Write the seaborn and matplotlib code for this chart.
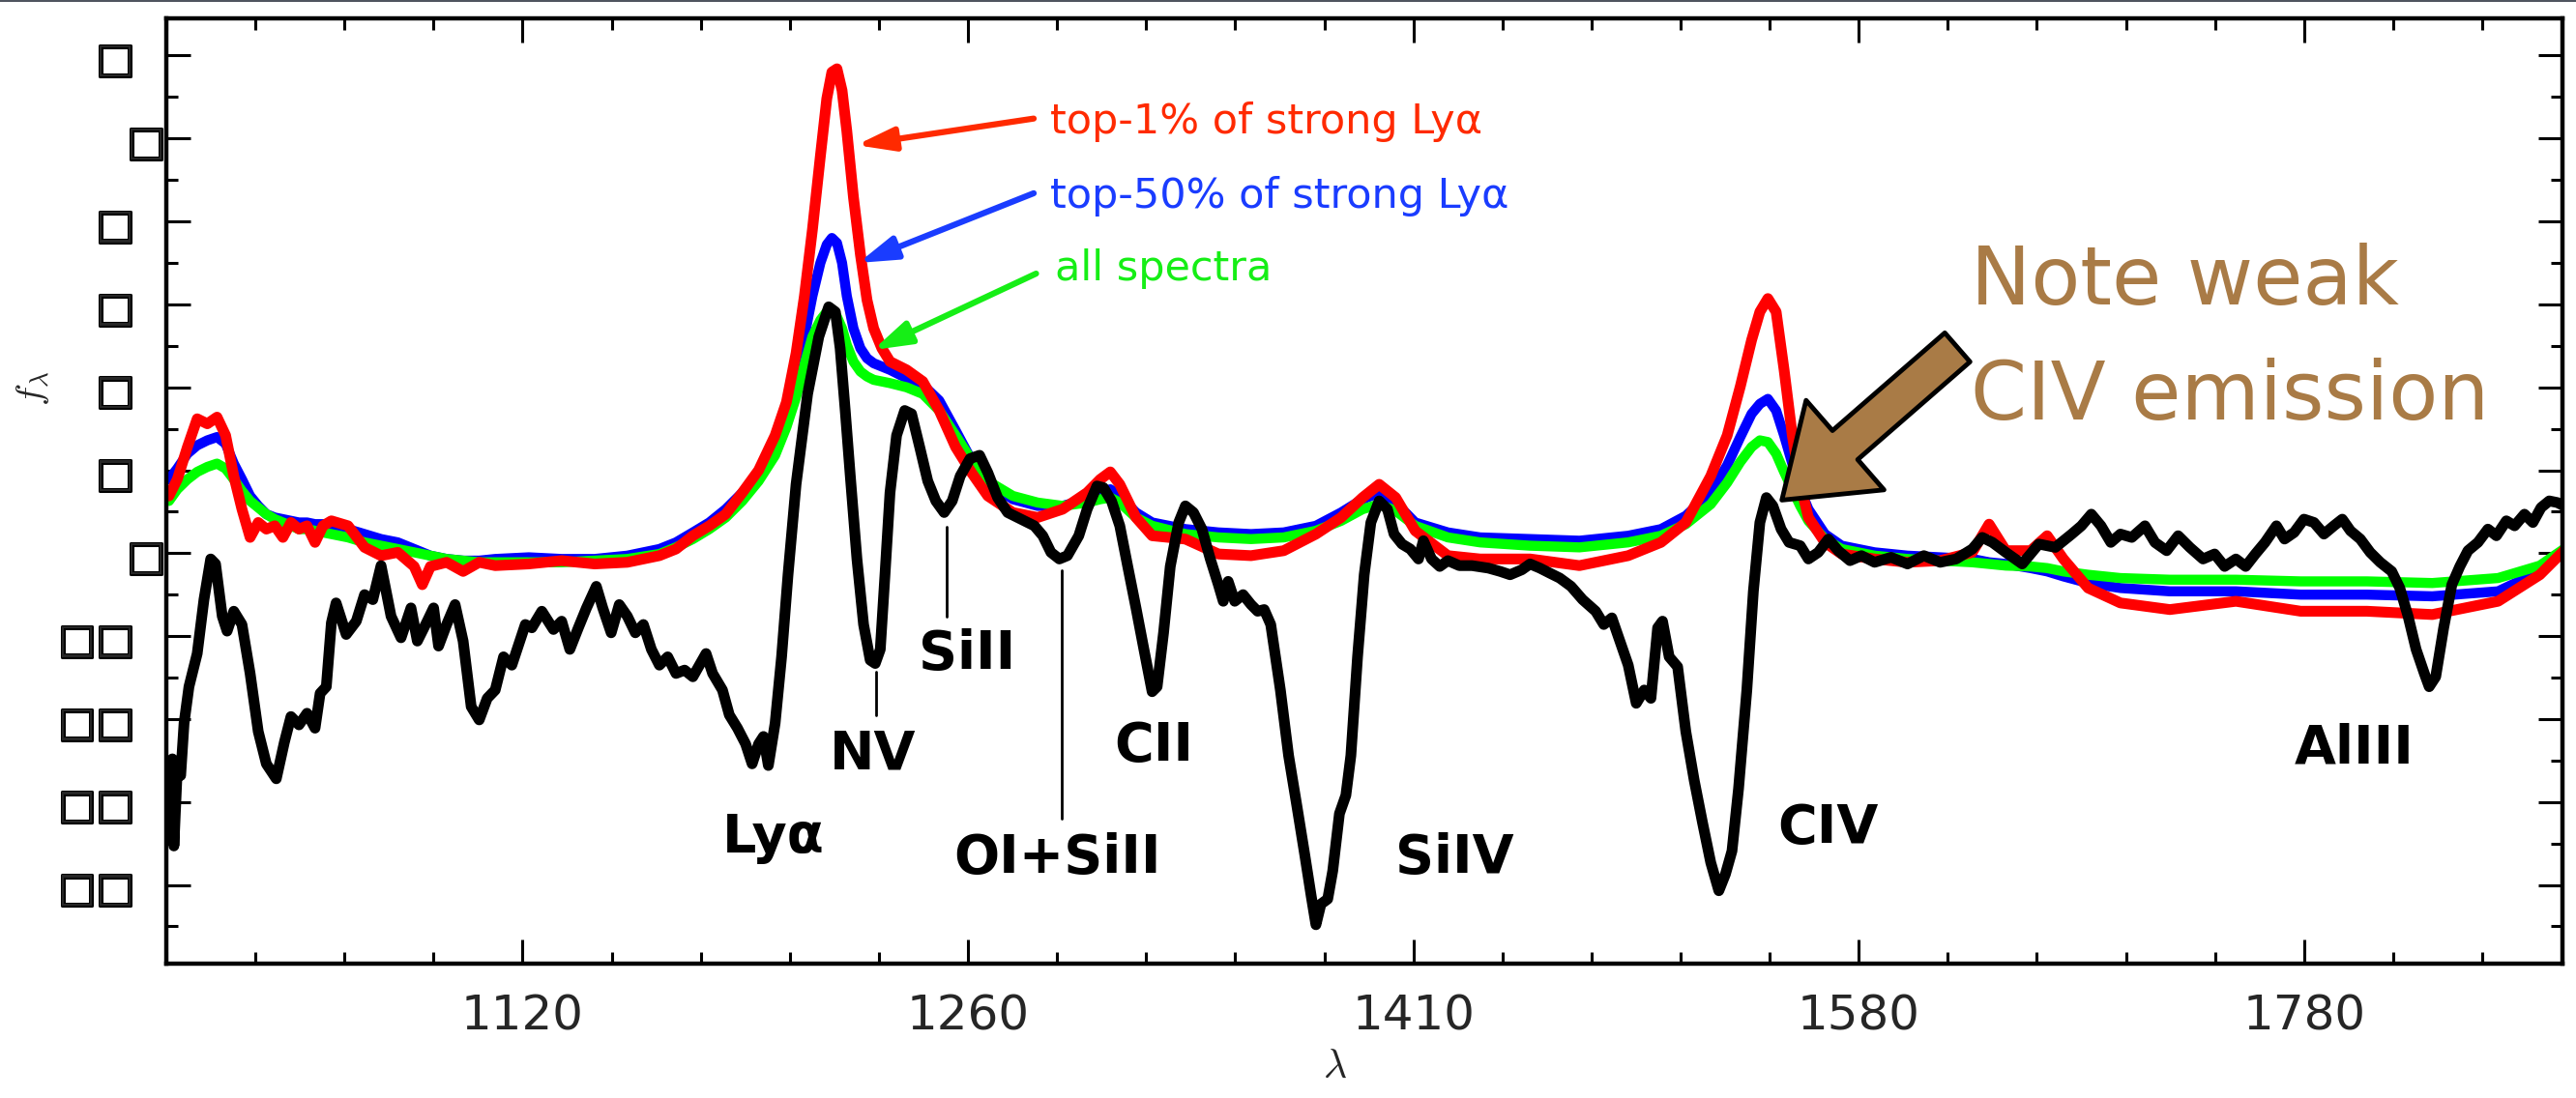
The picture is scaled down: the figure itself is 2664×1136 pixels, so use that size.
import numpy as np
import matplotlib
matplotlib.use("Agg")
import matplotlib.pyplot as plt
import matplotlib.transforms as mtransforms
import matplotlib.patheffects as pe
from matplotlib.lines import Line2D
from matplotlib.ticker import FixedLocator, NullFormatter
import seaborn as sns

# ---------------- data: rest-frame wavelength (A) and scaled flux ----------------
bal_wave = [
    1024.0, 1024.9, 1025.3, 1026.2, 1027.1, 1028.0, 1029.3, 1031.5, 1033.3, 1035.1,
    1036.4, 1038.2, 1039.5, 1041.3, 1043.5, 1045.7, 1047.9, 1050.1, 1052.8, 1055.0,
    1056.8, 1059.0, 1061.2, 1063.4, 1064.8, 1066.5, 1067.9, 1069.2, 1072.0, 1074.8,
    1077.1, 1079.4, 1081.7, 1084.5, 1087.3, 1090.1, 1091.9, 1094.7, 1096.5, 1097.9,
    1100.2, 1102.6, 1104.9, 1107.2, 1109.5, 1111.8, 1114.1, 1116.5, 1118.9, 1122.8,
    1124.7, 1127.6, 1131.0, 1133.4, 1135.8, 1138.3, 1140.7, 1143.6, 1145.5, 1148.0,
    1150.4, 1152.8, 1155.2, 1157.6, 1160.0, 1162.4, 1164.9, 1167.4, 1170.0, 1172.5,
    1176.5, 1178.5, 1181.5, 1183.6, 1186.1, 1188.6, 1190.6, 1192.6, 1194.1, 1195.6,
    1197.7, 1199.7, 1201.7, 1204.2, 1207.8, 1211.3, 1214.4, 1216.5, 1218.0, 1219.6,
    1221.2, 1223.3, 1225.4, 1227.5, 1229.1, 1230.7, 1232.2, 1233.8, 1235.9, 1238.5,
    1240.7, 1243.3, 1245.9, 1248.5, 1251.2, 1253.8, 1256.4, 1259.6, 1262.7, 1265.4,
    1268.6, 1271.9, 1276.3, 1280.7, 1283.5, 1286.2, 1289.0, 1291.7, 1295.5, 1298.3,
    1301.6, 1303.8, 1306.5, 1309.3, 1312.0, 1314.8, 1317.5, 1320.3, 1322.0, 1324.2,
    1326.5, 1329.4, 1331.7, 1334.5, 1337.4, 1340.3, 1343.1, 1344.8, 1346.5, 1348.8,
    1351.7, 1354.5, 1356.8, 1359.1, 1361.4, 1364.8, 1367.7, 1370.6, 1373.4, 1375.7,
    1377.4, 1379.2, 1381.6, 1383.4, 1385.8, 1388.1, 1389.9, 1392.3, 1394.7, 1397.1,
    1400.1, 1403.1, 1405.5, 1408.4, 1411.4, 1414.4, 1416.2, 1419.2, 1422.2, 1425.2,
    1429.4, 1434.1, 1440.2, 1444.6, 1448.3, 1452.7, 1455.8, 1459.5, 1463.2, 1467.0,
    1471.3, 1475.7, 1480.7, 1483.8, 1486.9, 1490.0, 1493.2, 1496.3, 1499.4, 1502.0,
    1504.6, 1506.5, 1509.1, 1512.4, 1515.6, 1518.9, 1522.1, 1525.4, 1528.6, 1531.2,
    1533.8, 1536.4, 1539.7, 1542.3, 1544.9, 1547.5, 1550.1, 1553.4, 1556.6, 1561.1,
    1564.4, 1568.4, 1572.5, 1576.5, 1581.3, 1586.0, 1591.4, 1598.2, 1605.0, 1611.8,
    1618.6, 1625.3, 1632.1, 1636.3, 1640.6, 1646.3, 1653.3, 1660.4, 1667.5, 1674.6,
    1678.8, 1683.1, 1687.3, 1691.6, 1695.8, 1700.8, 1706.6, 1711.0, 1716.2, 1721.3,
    1726.5, 1732.4, 1737.6, 1742.1, 1747.2, 1751.6, 1756.0, 1760.4, 1765.6, 1769.3,
    1773.7, 1778.2, 1782.8, 1787.4, 1792.0, 1795.9, 1799.7, 1804.3, 1808.9, 1813.6,
    1819.0, 1822.8, 1826.7, 1830.5, 1834.4, 1836.7, 1839.8, 1843.6, 1847.5, 1851.3,
    1855.2, 1860.0, 1864.8, 1868.9, 1873.7, 1877.7, 1882.5, 1886.6, 1890.6, 1894.6,
    1898.6, 1901.8,
]
bal_flux = [
    -3.43, -2.48, -3.53, -2.60, -2.68, -2.05, -1.61, -1.21, -0.56, -0.07,
    -0.13, -0.76, -0.94, -0.70, -0.86, -1.45, -2.15, -2.54, -2.72, -2.28,
    -1.97, -2.07, -1.93, -2.11, -1.69, -1.61, -0.84, -0.60, -0.98, -0.82,
    -0.50, -0.56, -0.15, -0.76, -1.02, -0.66, -1.06, -0.82, -0.66, -1.12,
    -0.86, -0.62, -1.06, -1.85, -2.01, -1.75, -1.65, -1.25, -1.35, -0.86,
    -0.90, -0.70, -0.92, -0.82, -1.16, -0.90, -0.66, -0.40, -0.66, -0.96,
    -0.62, -0.76, -0.96, -0.86, -1.16, -1.35, -1.25, -1.45, -1.41, -1.49,
    -1.21, -1.45, -1.65, -1.95, -2.11, -2.30, -2.54, -2.30, -2.21, -2.56,
    -2.05, -1.25, -0.26, 0.83, 1.92, 2.61, 2.97, 2.91, 2.47, 1.72,
    0.93, -0.07, -0.86, -1.29, -1.33, -1.16, -0.26, 0.73, 1.42, 1.72,
    1.68, 1.28, 0.87, 0.63, 0.49, 0.63, 0.93, 1.14, 1.18, 0.97,
    0.67, 0.49, 0.41, 0.33, 0.21, 0.01, -0.07, -0.03, 0.21, 0.53,
    0.81, 0.79, 0.63, 0.33, -0.16, -0.66, -1.16, -1.67, -1.61, -0.96,
    -0.16, 0.37, 0.57, 0.49, 0.29, -0.07, -0.38, -0.58, -0.34, -0.58,
    -0.50, -0.62, -0.70, -0.68, -0.86, -1.65, -2.44, -3.04, -3.63, -4.13,
    -4.48, -4.23, -4.17, -3.83, -3.14, -2.92, -2.44, -1.25, -0.26, 0.37,
    0.63, 0.53, 0.23, 0.11, 0.05, -0.07, 0.15, -0.07, -0.16, -0.09,
    -0.15, -0.15, -0.18, -0.22, -0.26, -0.20, -0.13, -0.18, -0.24, -0.30,
    -0.40, -0.56, -0.70, -0.86, -0.78, -1.06, -1.35, -1.81, -1.65, -1.75,
    -0.90, -0.82, -1.25, -1.37, -2.15, -2.74, -3.24, -3.73, -4.07, -3.87,
    -3.59, -2.84, -1.65, -0.46, 0.37, 0.67, 0.57, 0.29, 0.13, 0.09,
    -0.07, 0.01, 0.17, 0.03, -0.09, -0.03, -0.11, -0.05, -0.13, -0.03,
    -0.11, -0.07, 0.05, 0.19, 0.13, 0.01, -0.13, 0.11, 0.07, 0.23,
    0.33, 0.47, 0.33, 0.13, 0.23, 0.19, 0.33, 0.13, 0.03, 0.21,
    0.07, -0.07, -0.01, -0.16, -0.07, -0.16, -0.01, 0.13, 0.33, 0.17,
    0.25, 0.41, 0.37, 0.23, 0.33, 0.41, 0.27, 0.17, 0.01, -0.11,
    -0.22, -0.42, -0.76, -1.16, -1.45, -1.61, -1.49, -0.90, -0.38, -0.16,
    0.03, 0.13, 0.29, 0.21, 0.39, 0.33, 0.47, 0.37, 0.55, 0.63,
    0.61, 0.57,
]

composite_wave = [
    1024.0, 1026.2, 1028.9, 1031.5, 1034.2, 1036.8, 1039.1, 1041.3, 1043.5, 1045.7,
    1047.9, 1050.1, 1052.4, 1054.6, 1056.8, 1059.0, 1061.2, 1063.4, 1065.6, 1067.9,
    1072.5, 1077.1, 1081.7, 1086.4, 1091.0, 1093.3, 1095.6, 1100.2, 1104.9, 1109.5,
    1114.1, 1123.8, 1133.4, 1143.1, 1152.8, 1162.4, 1167.4, 1172.5, 1177.5, 1182.5,
    1187.6, 1192.6, 1197.7, 1201.2, 1204.2, 1206.8, 1209.3, 1211.8, 1213.8, 1215.4,
    1217.0, 1218.6, 1220.1, 1222.2, 1224.4, 1226.5, 1228.6, 1231.2, 1233.8, 1239.1,
    1244.3, 1249.6, 1254.9, 1260.1, 1265.4, 1273.6, 1281.8, 1290.1, 1298.3, 1302.7,
    1306.1, 1309.3, 1314.8, 1320.3, 1331.7, 1343.1, 1354.5, 1366.0, 1377.4, 1386.4,
    1394.1, 1400.1, 1406.1, 1413.2, 1425.2, 1437.1, 1455.8, 1474.5, 1493.2, 1505.9,
    1515.6, 1525.4, 1531.9, 1537.1, 1541.6, 1544.9, 1548.1, 1551.4, 1554.6, 1557.9,
    1561.1, 1564.4, 1571.1, 1577.9, 1591.4, 1605.0, 1618.6, 1632.1, 1639.2, 1646.3,
    1656.9, 1664.0, 1671.0, 1681.7, 1695.8, 1717.6, 1747.2, 1776.7, 1807.4, 1838.2,
    1869.7, 1890.0, 1901.8,
]
top1_flux = [
    0.69, 0.89, 1.28, 1.62, 1.56, 1.64, 1.42, 0.93, 0.53, 0.19,
    0.37, 0.29, 0.33, 0.19, 0.37, 0.29, 0.33, 0.13, 0.33, 0.39,
    0.33, 0.07, -0.03, 0.01, -0.16, -0.38, -0.16, -0.11, -0.22, -0.11,
    -0.15, -0.13, -0.09, -0.13, -0.11, -0.03, 0.05, 0.21, 0.33, 0.47,
    0.73, 1.00, 1.42, 1.82, 2.41, 3.10, 3.90, 4.79, 5.48, 5.80,
    5.84, 5.58, 5.09, 4.29, 3.60, 3.05, 2.71, 2.47, 2.31, 2.21,
    2.07, 1.72, 1.28, 0.97, 0.69, 0.49, 0.43, 0.53, 0.73, 0.89,
    0.98, 0.83, 0.43, 0.21, 0.17, -0.01, -0.03, 0.03, 0.23, 0.43,
    0.67, 0.83, 0.67, 0.27, -0.03, -0.07, -0.07, -0.15, -0.03, 0.13,
    0.37, 0.93, 1.42, 2.01, 2.57, 2.91, 3.07, 2.91, 2.21, 1.42,
    0.83, 0.43, 0.13, -0.01, -0.07, -0.11, -0.09, 0.01, 0.35, 0.03,
    0.03, 0.21, -0.07, -0.42, -0.60, -0.68, -0.58, -0.70, -0.70, -0.74,
    -0.58, -0.26, 0.03,
]
top50_flux = [
    0.89, 1.02, 1.20, 1.30, 1.36, 1.40, 1.32, 1.08, 0.89, 0.69,
    0.57, 0.47, 0.43, 0.41, 0.39, 0.37, 0.37, 0.35, 0.35, 0.33,
    0.29, 0.23, 0.17, 0.13, 0.05, 0.01, -0.03, -0.07, -0.09, -0.09,
    -0.07, -0.05, -0.07, -0.07, -0.03, 0.05, 0.13, 0.25, 0.37, 0.53,
    0.73, 0.97, 1.32, 1.68, 2.15, 2.61, 3.10, 3.50, 3.72, 3.80,
    3.74, 3.50, 3.10, 2.71, 2.47, 2.35, 2.29, 2.25, 2.21, 2.11,
    2.03, 1.84, 1.48, 1.12, 0.85, 0.65, 0.57, 0.57, 0.65, 0.73,
    0.77, 0.69, 0.49, 0.37, 0.29, 0.25, 0.23, 0.25, 0.33, 0.49,
    0.65, 0.73, 0.61, 0.37, 0.25, 0.19, 0.17, 0.15, 0.21, 0.29,
    0.45, 0.73, 1.06, 1.40, 1.68, 1.80, 1.86, 1.72, 1.42, 1.08,
    0.77, 0.53, 0.23, 0.09, 0.01, -0.03, -0.05, -0.07, -0.11, -0.13,
    -0.18, -0.22, -0.28, -0.36, -0.42, -0.46, -0.46, -0.50, -0.50, -0.52,
    -0.46, -0.22, 0.03,
]
all_flux = [
    0.63, 0.77, 0.89, 0.98, 1.04, 1.08, 1.02, 0.89, 0.75, 0.63,
    0.55, 0.47, 0.41, 0.37, 0.33, 0.29, 0.29, 0.27, 0.25, 0.23,
    0.19, 0.13, 0.09, 0.05, 0.01, -0.01, -0.03, -0.07, -0.09, -0.11,
    -0.11, -0.11, -0.11, -0.09, -0.07, -0.01, 0.07, 0.17, 0.29, 0.43,
    0.63, 0.87, 1.18, 1.52, 1.88, 2.27, 2.61, 2.81, 2.91, 2.91,
    2.85, 2.71, 2.51, 2.31, 2.19, 2.13, 2.09, 2.07, 2.05, 2.00,
    1.92, 1.72, 1.42, 1.12, 0.87, 0.69, 0.61, 0.57, 0.61, 0.65,
    0.67, 0.61, 0.43, 0.33, 0.23, 0.19, 0.17, 0.19, 0.27, 0.39,
    0.53, 0.59, 0.51, 0.33, 0.19, 0.13, 0.09, 0.07, 0.13, 0.21,
    0.35, 0.59, 0.85, 1.10, 1.28, 1.36, 1.34, 1.20, 0.98, 0.77,
    0.57, 0.39, 0.17, 0.05, -0.03, -0.07, -0.09, -0.11, -0.13, -0.15,
    -0.16, -0.18, -0.22, -0.26, -0.30, -0.32, -0.32, -0.34, -0.34, -0.36,
    -0.30, -0.15, 0.05,
]

# axis ticks
xtick_log = [3.05, 3.10, 3.15, 3.20, 3.25]
xtick_labels = ["1120", "1260", "1410", "1580", "1780"]
ytick_values = [-4, -3, -2, -1, 0, 1, 2, 3, 4, 5, 6]
ytick_labels = ["\u25a1\u25a1", "\u25a1\u25a1", "\u25a1\u25a1", "\u25a1\u25a1",
                "\u25a1", "\u25a1", "\u25a1", "\u25a1", "\u25a1", "\u25a1", "\u25a1"]
ytick_shifted = [0, 5]

# ion labels for the absorption troughs
ion_names = ["Ly\u03b1", "NV", "SiII", "OI+SiII", "CII", "SiIV", "CIV", "AlIII"]
ion_xy = [(0.2534, 0.118), (0.2950, 0.2065), (0.3341, 0.312), (0.3717, 0.096),
          (0.4120, 0.215), (0.5375, 0.096), (0.6933, 0.128), (0.9132, 0.212)]

# ---------------- style ----------------
sns.set_theme(style="ticks")
plt.rcParams["font.family"] = ["DejaVu Sans"]
plt.rcParams["mathtext.fontset"] = "cm"

fig = plt.figure(figsize=(26.64, 11.36), dpi=100)
ax = fig.add_axes([0.06456, 0.12236, 0.93018, 0.86092])

RED, BLUE, GREEN = "#ff0000", "#0000ff", "#00ff00"
line_kw = dict(estimator=None, sort=False, ax=ax, legend=False,
               solid_joinstyle="round", solid_capstyle="round")

sns.lineplot(x=composite_wave, y=top50_flux, color=BLUE, linewidth=7.5, **line_kw)
sns.lineplot(x=composite_wave, y=all_flux, color=GREEN, linewidth=7.5, **line_kw)
sns.lineplot(x=composite_wave, y=top1_flux, color=RED, linewidth=8.0, **line_kw)
sns.lineplot(x=bal_wave, y=bal_flux, color="black", linewidth=8.0, **line_kw)

# ---------------- axes ----------------
ax.set_xscale("log")
ax.set_xlim(10 ** 3.01, 10 ** 3.279)
ax.set_ylim(-4.949, 6.448)

ax.xaxis.set_major_locator(FixedLocator(10 ** np.array(xtick_log)))
ax.set_xticklabels(xtick_labels)
ax.xaxis.set_minor_locator(FixedLocator(10 ** np.arange(3.01, 3.2795, 0.01)))
ax.xaxis.set_minor_formatter(NullFormatter())

ax.yaxis.set_major_locator(FixedLocator(ytick_values))
ax.set_yticklabels(ytick_labels)
ax.yaxis.set_minor_locator(FixedLocator(np.arange(-4.5, 6.5, 1.0)))
ax.yaxis.set_minor_formatter(NullFormatter())

ax.tick_params(which="both", direction="in", top=True, right=True,
               width=2.2, color="black")
ax.tick_params(which="major", length=18)
ax.tick_params(which="minor", length=8.6)
ax.tick_params(axis="x", which="major", labelsize=36, pad=22)
ax.tick_params(axis="y", which="major", labelsize=30, pad=24)
for lab in ax.get_yticklabels():
    lab.set_path_effects([pe.withStroke(linewidth=2.2, foreground="black")])

for tick in ax.yaxis.get_major_ticks():
    if tick.get_loc() in ytick_shifted:
        lab = tick.label1
        lab.set_transform(lab.get_transform() +
                          mtransforms.ScaledTranslation(0.32, 0, fig.dpi_scale_trans))

for s in ax.spines.values():
    s.set_linewidth(3.2)
    s.set_color("black")

ax.set_xlabel(r"$\lambda$", fontsize=30)
ax.xaxis.label.set_va("center")
ax.xaxis.set_label_coords(0.4875, -0.108)
ax.set_ylabel(r"$f_\lambda$", fontsize=28)
ax.yaxis.label.set_va("center")
ax.yaxis.set_label_coords(-0.0555, 0.608)

# ---------------- annotations ----------------
for name, (fx, fy) in zip(ion_names, ion_xy):
    ax.text(fx, fy, name, transform=ax.transAxes, ha="center", va="baseline",
            fontsize=40, fontweight="bold", color="black")

# leader lines for NV, SiII and OI+SiII
ax.axvline(1229.3, ymin=0.263, ymax=0.309, color="black", lw=2.0)
ax.axvline(1252.1, ymin=0.367, ymax=0.462, color="black", lw=2.0)
ax.axvline(1289.8, ymin=0.153, ymax=0.416, color="black", lw=2.0)

sample_text = [("top-1% of strong Ly\u03b1", "#ff2a00", (0.369, 0.878), (0.362, 0.894), (1223.1, 4.92)),
               ("top-50% of strong Ly\u03b1", "#1a3cff", (0.369, 0.800), (0.362, 0.815), (1223.8, 3.50)),
               ("all spectra", "#16ee16", (0.371, 0.723), (0.363, 0.730), (1228.4, 2.45))]
for text, col, txy, tail, tip in sample_text:
    ax.text(txy[0], txy[1], text, transform=ax.transAxes, color=col,
            fontsize=31, ha="left", va="baseline")
    ax.annotate("", xy=tip, xycoords="data", xytext=tail, textcoords="axes fraction",
                arrowprops=dict(arrowstyle="-|>,head_length=0.9,head_width=0.28",
                                color=col, lw=4.5, shrinkA=0, shrinkB=0,
                                mutation_scale=26))

BROWN = "#a97b46"
ax.text(0.753, 0.697, "Note weak", transform=ax.transAxes, color=BROWN,
        fontsize=60, ha="left", va="baseline")
ax.text(0.753, 0.576, "CIV emission", transform=ax.transAxes, color=BROWN,
        fontsize=60, ha="left", va="baseline")
ax.annotate("", xy=(1553.7, 0.64), xycoords="data", xytext=(0.7475, 0.652),
            textcoords="axes fraction",
            arrowprops=dict(arrowstyle="simple,head_length=1.2,head_width=1.7,tail_width=0.55",
                            fc=BROWN, ec="black", lw=3.5, shrinkA=0, shrinkB=0,
                            mutation_scale=52))

fig.add_artist(Line2D([0, 1], [0.9992, 0.9992], transform=fig.transFigure,
                      color="#2e3440", lw=1.2))

fig.savefig("out.png", dpi=100, facecolor="white")
